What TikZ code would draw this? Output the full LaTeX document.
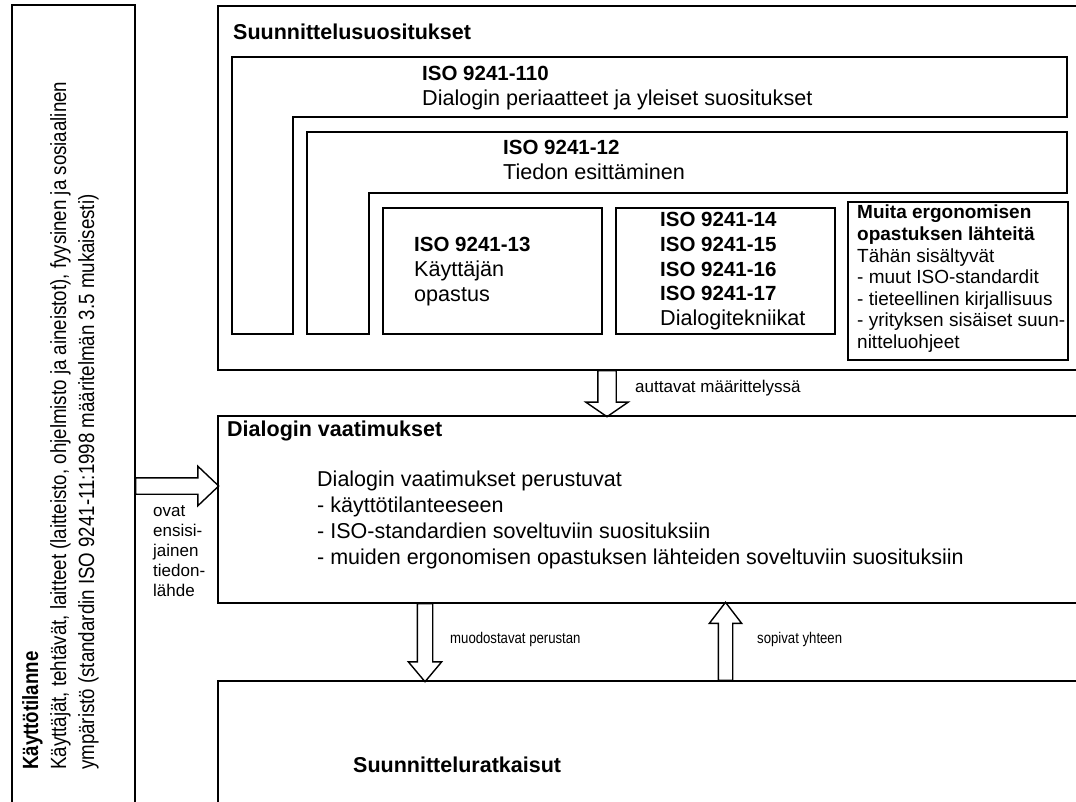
\documentclass[tikz,border=0pt]{standalone}
\usepackage{fontspec}
\setmainfont{Liberation Sans}
\newfontfamily\narrowfont[FakeStretch=0.85]{Liberation Sans}
\usetikzlibrary{shapes.arrows, positioning, calc}
\newcommand{\isohead}[1]{{\fontsize{20.5}{24.8}\selectfont\bfseries #1}}

\begin{document}
\begin{tikzpicture}[x=1pt, y=-1pt,
    frame/.style={draw, line width=1.6pt, inner sep=0pt, outer sep=0pt, anchor=north west},
    wall/.style={line width=1.6pt},
    lbl/.style={inner sep=0pt, anchor=north west, align=left},
    big/.style={font=\fontsize{21.5}{26}\selectfont},
    iso/.style={font=\fontsize{21.6}{24.8}\selectfont},
    small/.style={font=\fontsize{19}{21.6}\selectfont},
    tag/.style={font=\fontsize{17}{20}\selectfont},
    narrow/.style={font=\narrowfont\fontsize{15.5}{19}\selectfont},
    blockarrow/.style={single arrow, draw, line width=1.4pt, inner xsep=0pt,
                       minimum width=0pt, anchor=tail},
]
\useasboundingbox (0,0) rectangle (1076,801);
\clip (0,0) rectangle (1076,801);

% Boxes
\node[frame, minimum width=123pt, minimum height=830pt] (kayt) at (12,5) {};
\node[frame, minimum width=900pt, minimum height=364pt] (suos) at (218,6) {};
\node[frame, minimum width=900pt, minimum height=187pt] (vaat) at (218,416) {};
\node[frame, minimum width=900pt, minimum height=200pt] (ratk) at (218,681) {};

% Standards inside the recommendations
\draw[wall] (232,57) -- (1067,57) -- (1067,117) -- (293,117) -- (293,334) -- (232,334) -- cycle;
\draw[wall] (307,132) -- (1067,132) -- (1067,193) -- (369,193) -- (369,334) -- (307,334) -- cycle;
\node[frame, minimum width=219pt, minimum height=126pt] (b13) at (383,208) {};
\node[frame, minimum width=219pt, minimum height=126pt] (b14) at (616,208) {};
\node[frame, minimum width=220pt, minimum height=158pt] (muita) at (848,202) {};

% Texts
\node[lbl, anchor=base west, big] (tSuos) at (233,39) {\textbf{Suunnittelusuositukset}};
\node[lbl, iso] (t110) at (422,66) {\isohead{ISO 9241-110}\\Dialogin periaatteet ja yleiset suositukset};
\node[lbl, iso] (t12) at (503,140) {\isohead{ISO 9241-12}\\Tiedon esittäminen};
\node[lbl, iso] (t13) at (414,237) {\isohead{ISO 9241-13}\\Käyttäjän\\opastus};
\node[lbl, iso] (t14) at (660,212) {\isohead{ISO 9241-14}\\\isohead{ISO 9241-15}\\\isohead{ISO 9241-16}\\\isohead{ISO 9241-17}\\Dialogitekniikat};
\node[lbl, small] (tMuita) at (857,205) {\textbf{Muita ergonomisen}\\\textbf{opastuksen lähteitä}\\Tähän sisältyvät\\- muut ISO-standardit\\- tieteellinen kirjallisuus\\- yrityksen sisäiset suun-\\nitteluohjeet};

\node[lbl, anchor=base west, big] (tVaat) at (227,436) {\textbf{Dialogin vaatimukset}};
\node[lbl, big] (tPerus) at (317,471) {Dialogin vaatimukset perustuvat\\- käyttötilanteeseen\\- ISO-standardien soveltuviin suosituksiin\\- muiden ergonomisen opastuksen lähteiden soveltuviin suosituksiin};
\node[lbl, anchor=base west, big] (tRatk) at (353,772) {\textbf{Suunnitteluratkaisut}};

\node[lbl, rotate=90, font=\narrowfont\fontsize{22}{28}\selectfont] (tKayt) at (22,770)
    {\textbf{Käyttötilanne}\\Käyttäjät, tehtävät, laitteet (laitteisto, ohjelmisto ja aineistot), fyysinen ja sosiaalinen\\ympäristö (standardin ISO 9241-11:1998 määritelmän 3.5 mukaisesti)};

% Block arrows
\node[blockarrow, rotate=-90, minimum height=46pt, inner ysep=8.5pt,
      single arrow head extend=12pt, single arrow tip angle=111] (arrSuos) at (607,0 |- suos.south) {};
\node[blockarrow, minimum height=83pt, inner ysep=7.5pt,
      single arrow head extend=11.5pt, single arrow tip angle=87] (arrKayt) at (kayt.east |- 0,486) {};
\node[blockarrow, rotate=-90, minimum height=78pt, inner ysep=7pt,
      single arrow head extend=9pt, single arrow tip angle=80] (arrPerus) at (425,0 |- vaat.south) {};
\node[blockarrow, rotate=90, minimum height=78pt, inner ysep=6.5pt,
      single arrow head extend=9pt, single arrow tip angle=75] (arrSopiv) at (725.5,0 |- ratk.north) {};

% Arrow labels
\node[lbl, anchor=base west, tag] (lAutt) at (635,392) {auttavat määrittelyssä};
\node[lbl, tag] (lOvat) at (153,505) {ovat\\ensisi-\\jainen\\tiedon-\\lähde};
\node[lbl, anchor=base west, narrow] (lMuod) at (450,643) {muodostavat perustan};
\node[lbl, anchor=base west, narrow] (lSopiv) at (757,643) {sopivat yhteen};

\end{tikzpicture}
\end{document}
